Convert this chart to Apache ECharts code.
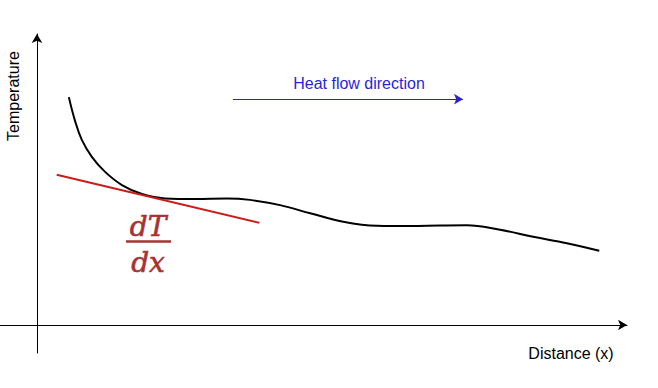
<!DOCTYPE html>
<html>
<head>
<meta charset="utf-8">
<script src="https://cdn.jsdelivr.net/npm/echarts@6/dist/echarts.min.js"></script>
<style>html,body{margin:0;padding:0;background:#fff}#c{width:658px;height:388px}</style>
</head>
<body>
<div id="c"></div>
<script>
// Schematic temperature profile T(x) (arbitrary units)
const distance = [5.4, 6.4, 7.6, 9.3, 11.5, 14.4, 17.8, 21.7, 26.8, 32.2, 36.1, 41.2, 46.3, 51.9, 57.6, 63.2, 68.3, 72.8, 78.5, 84.1, 89.8, 95.3];
const temperature = [78.3, 70.5, 63.6, 57.8, 52.7, 48.1, 45.0, 43.5, 43.3, 43.5, 43.0, 41.2, 38.4, 35.5, 34.1, 34.0, 34.2, 34.3, 32.7, 30.3, 28.1, 25.5];
// Tangent line (dT/dx) endpoints
const tangentX = [3.34, 37.7];
const tangentY = [51.6, 35.1];
// Heat flow direction arrow
const heatX = [33.2, 72.2];
const heatY = 77.6;
const axisNames = { x: 'Distance (x)', y: 'Temperature' };
const heatLabel = 'Heat flow direction';

const curveData = distance.map((x, i) => [x, temperature[i]]);
const tangentData = tangentX.map((x, i) => [x, tangentY[i]]);

const chart = echarts.init(document.getElementById('c'), null, { renderer: 'svg' });
const FONT = '"Liberation Sans", Arial, sans-serif';
chart.setOption({
  animation: false,
  grid: { left: 0, right: 31, top: 34, bottom: 35, containLabel: false },
  xAxis: {
    type: 'value', min: -6.27, max: 100,
    axisLine: { show: true, onZero: true, symbol: ['none', 'arrow'], symbolSize: [8, 9], lineStyle: { color: '#000', width: 1 } },
    axisTick: { show: false }, axisLabel: { show: false }, splitLine: { show: false }
  },
  yAxis: {
    type: 'value', min: -9.62, max: 100,
    axisLine: { show: true, onZero: true, symbol: ['none', 'arrow'], symbolSize: [8, 9], lineStyle: { color: '#000', width: 1 } },
    axisTick: { show: false }, axisLabel: { show: false }, splitLine: { show: false }
  },
  series: [
    {
      type: 'line', data: curveData, smooth: 0.4, showSymbol: false, symbol: 'none',
      lineStyle: { color: '#000', width: 2 }, silent: true
    },
    {
      type: 'line', data: tangentData, showSymbol: false, symbol: 'none',
      lineStyle: { color: '#cc1b1b', width: 2 }, silent: true,
      markLine: {
        silent: true, symbol: ['none', 'arrow'], symbolSize: [8, 9],
        lineStyle: { color: '#2b1fd8', width: 1.2, type: 'solid' },
        label: { show: false },
        data: [[{ coord: [heatX[0], heatY] }, { coord: [heatX[1], heatY] }]]
      }
    }
  ],
  graphic: [
    { type: 'text', x: 13, y: 96, rotation: Math.PI / 2, style: { text: axisNames.y, font: '16px ' + FONT, fill: '#000', align: 'center', verticalAlign: 'middle' } },
    { type: 'text', x: 571, y: 353, style: { text: axisNames.x, font: '16px ' + FONT, fill: '#000', align: 'center', verticalAlign: 'middle' } },
    { type: 'text', x: 359, y: 83, style: { text: heatLabel, font: '16px ' + FONT, fill: '#2b1fd8', align: 'center', verticalAlign: 'middle' } },
    { type: 'text', x: 148, y: 226, style: { text: 'dT', font: 'italic 28px "DejaVu Serif", serif', fill: '#a83232', align: 'center', verticalAlign: 'middle', stroke: '#a83232', lineWidth: 0.6 } },
    { type: 'line', shape: { x1: 126, y1: 241.5, x2: 171, y2: 241.5 }, style: { stroke: '#a83232', lineWidth: 2.4 } },
    { type: 'text', x: 148, y: 262, style: { text: 'dx', font: 'italic 28px "DejaVu Serif", serif', fill: '#a83232', align: 'center', verticalAlign: 'middle', stroke: '#a83232', lineWidth: 0.6 } }
  ]
});
</script>
</body>
</html>
